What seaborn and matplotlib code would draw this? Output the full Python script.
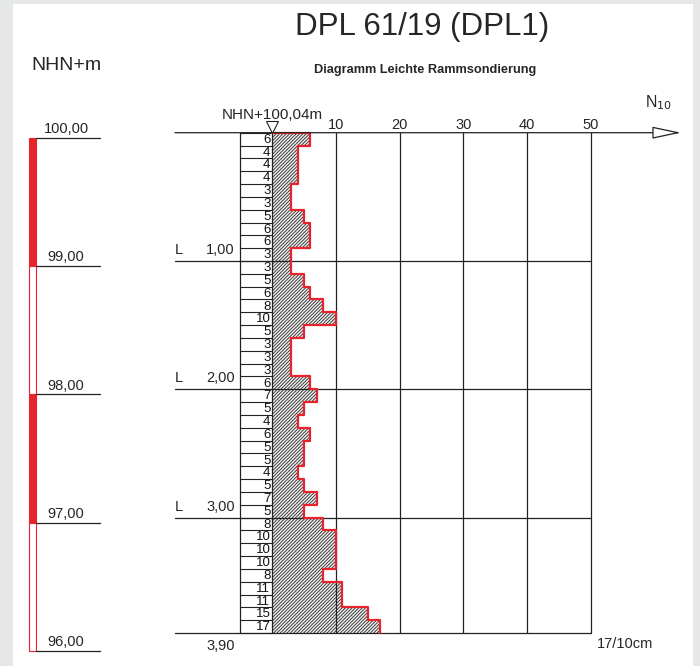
import numpy as np
import pandas as pd
import seaborn as sns
import matplotlib.pyplot as plt
from matplotlib.patches import Rectangle

# blow counts N10 per 10 cm, from ground level downwards
blows = [6, 4, 4, 4, 3, 3, 5, 6, 6, 3,
         3, 5, 6, 8, 10, 5, 3, 3, 3, 6,
         7, 5, 4, 6, 5, 5, 4, 5, 7, 5,
         8, 10, 10, 10, 8, 11, 11, 15, 17]
step = 0.1
ground = 100.04
end_depth = 3.90
x_ticks = [10, 20, 30, 40, 50]
depth_marks = [1.0, 2.0, 3.0]
elevations = [100, 99, 98, 97, 96]

sns.set_style('white')
plt.rcParams['font.family'] = ['Liberation Sans', 'DejaVu Sans']
plt.rcParams['hatch.linewidth'] = 0.7

depth_top = np.arange(len(blows)) * step
df = pd.DataFrame({'depth': depth_top + step / 2, 'N10': blows})

# pixel layout of the reference: N10=0 at 272px, 50 at 591px; depth 0 at 132.7px
W, H = 700, 666
px_x0, px_per_n = 272, (591 - 272) / 50
px_y0, px_per_m = 132.7, 128.3

fig = plt.figure(figsize=(W / 100, H / 100), dpi=100)
fig.patch.set_facecolor('#e6e7e9')
fig.patches.append(Rectangle((13 / W, 0), (693 - 13) / W, 1 - 4 / H, transform=fig.transFigure,
                             facecolor='white', edgecolor='none', zorder=-5))
ax = fig.add_axes([0, 0, 1, 1])
ax.set_facecolor('none')

def dx(px):
    return (px - px_x0) / px_per_n

# hatched bars
sns.barplot(data=df, x='N10', y='depth', orient='y', native_scale=True, width=1,
            color='#f4f4f4', saturation=1, errorbar=None, ax=ax,
            hatch='//////////', edgecolor='#3a3a3a', linewidth=0, zorder=2)

# red step outline
sx = np.concatenate([[0], np.repeat(blows, 2)])
edges = np.append(depth_top, end_depth)
sy = np.concatenate([[0], np.repeat(edges, 2)[1:-1]])
ax.plot(sx, sy, color='#e8232b', lw=1.6, zorder=4)

lc = '#222222'
lw = 0.9
# grid
for x in x_ticks:
    ax.plot([x, x], [0, end_depth], color=lc, lw=lw, zorder=3)
    ax.text(x, -0.03, str(x), ha='center', va='baseline', fontsize=10.5)
for d in depth_marks + [end_depth]:
    ax.plot([dx(175), 50], [d, d], color=lc, lw=lw, zorder=3)
for d in depth_marks:
    ax.text(dx(175), d - 0.03, 'L', ha='left', va='bottom', fontsize=10.5)
    ax.text(dx(235), d - 0.03, f'{d:.2f}'.replace('.', ','), ha='right', va='bottom', fontsize=10.5)
ax.text(dx(235), end_depth + 0.05, f'{end_depth:.2f}'.replace('.', ','), ha='right', va='top', fontsize=10.5)
ax.text(dx(597), end_depth + 0.03, f'{blows[-1]}/10cm', ha='left', va='top', fontsize=10.5)

# main axis with arrow
ax.annotate('', xy=(dx(681), 0), xytext=(dx(175), 0),
            arrowprops=dict(arrowstyle='-|>,head_length=1.8,head_width=0.38', mutation_scale=10,
                            fc='white', ec=lc, lw=lw, shrinkA=0, shrinkB=0), zorder=5)
ax.plot([0], [-0.045], marker='v', markersize=8, markerfacecolor='white',
        markeredgecolor=lc, markeredgewidth=0.8, zorder=6, clip_on=False)
ax.text(0, -0.11, f'NHN+{ground:.2f}m'.replace('.', ','), ha='center', va='baseline', fontsize=11)

# count column
ax.plot([dx(240), dx(240)], [0, end_depth], color=lc, lw=lw, zorder=3)
ax.plot([0, 0], [0, end_depth], color=lc, lw=lw, zorder=3)
for d in edges:
    ax.plot([dx(240), 0], [d, d], color=lc, lw=0.8, zorder=3)
for d, n in zip(df['depth'], blows):
    ax.text(-0.25, d + 0.005, str(n), ha='right', va='center', fontsize=9.5, color='#111111')

# elevation column
for i, e in enumerate(elevations[:-1]):
    top = ground - e
    filled = i % 2 == 0
    ax.bar(dx(32.5), 1.0, width=dx(36) - dx(29), bottom=top,
           color='#e8232b' if filled else 'white', edgecolor='#e8232b', linewidth=0.8, zorder=3)
for e in elevations:
    d = ground - e
    ax.plot([dx(36), dx(100)], [d, d], color=lc, lw=lw, zorder=3)
    ax.text(dx(66), d - 0.015, f'{e:.2f}'.replace('.', ','), ha='center', va='bottom', fontsize=10.5)

ax.set_xlim(dx(0), dx(W))
ax.set_ylim((H - px_y0) / px_per_m, -px_y0 / px_per_m)
ax.axis('off')

fig.text(422 / W, 1 - 27 / H, 'DPL 61/19 (DPL1)', ha='center', va='center', fontsize=22.5)
fig.text(425 / W, 1 - 70 / H, 'Diagramm Leichte Rammsondierung', ha='center', va='center',
         fontsize=9.2, fontweight='bold')
fig.text(66 / W, 1 - 65 / H, 'NHN+m', ha='center', va='center', fontsize=14)
fig.text(645 / W, 1 - 103 / H, 'N$_{10}$', ha='left', va='center', fontsize=11.5)

fig.savefig('out.png', dpi=100, facecolor=fig.get_facecolor())
